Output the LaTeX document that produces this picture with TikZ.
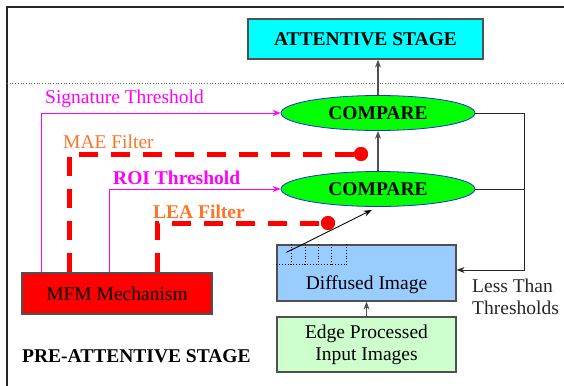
\documentclass[tikz,border=0pt]{standalone}
\usepackage{fontspec}
\setmainfont{Liberation Serif}
\usepackage{xcolor}
\usepackage{tikz}
\usetikzlibrary{
    arrows.meta,
    positioning,
    shapes.geometric,
    calc
}

\definecolor{attcyan}{RGB}{0,255,255}
\definecolor{cmpgreen}{RGB}{0,255,0}
\definecolor{cmpblue}{RGB}{40,40,230}
\definecolor{mfmred}{RGB}{255,0,0}
\definecolor{difblue}{RGB}{153,204,255}
\definecolor{edgegreen}{RGB}{204,255,204}
\definecolor{thrmagenta}{RGB}{255,0,255}
\definecolor{filtorange}{RGB}{255,115,40}
\definecolor{linegray}{RGB}{80,80,80}

\begin{document}
\begin{tikzpicture}[
        x=1pt, y=-1pt,
        font=\rmfamily\fontsize{19.5}{22}\selectfont,
        box/.style={
            rectangle,
            draw=linegray,
            line width=1.2pt,
            align=center,
            inner sep=0pt
        },
        cmp/.style={
            ellipse,
            draw=cmpblue,
            fill=cmpgreen,
            line width=0.8pt,
            minimum width=194pt,
            minimum height=35pt,
            inner sep=0pt,
            font=\rmfamily\fontsize{19.5}{22}\selectfont\bfseries
        },
        line/.style={
            -{Stealth[length=8pt,width=6pt]},
            draw=linegray,
            line width=1.1pt
        },
        thr/.style={
            -{Stealth[length=8pt,width=6pt]},
            draw=thrmagenta,
            line width=0.8pt
        },
        filt/.style={
            draw=mfmred,
            line width=5pt,
            dash pattern=on 19pt off 13pt
        },
        dot/.style={
            circle,
            fill=mfmred,
            minimum size=14pt,
            inner sep=0pt
        },
        lbl/.style={
            anchor=west,
            inner sep=0pt
        }
    ]

    \useasboundingbox (0,0) rectangle (564,385);

    % frame and stage separator
    \draw[line width=1.4pt, draw=black!85] (7,7) rectangle (580,400);
    \draw[dotted, draw=black!60, line width=0.7pt] (7,83) -- (564,83);

    \node[box, fill=attcyan, minimum width=235pt, minimum height=40pt,
          font=\rmfamily\fontsize{19.5}{22}\selectfont\bfseries] (att)
        at (365.5,39) {ATTENTIVE STAGE};

    \node[cmp] (cmp1) at (378,113) {COMPARE};
    \node[cmp] (cmp2) at (378,189) {COMPARE};

    \node[box, fill=mfmred, minimum width=190pt, minimum height=41pt] (mfm)
        at (117,293.5) {MFM Mechanism};

    \node[box, fill=difblue, minimum width=179pt, minimum height=56pt] (diff)
        at (366.5,273) {};
    \node[inner sep=0pt] (difftext) at (366.5,285) {Diffused Image};

    \node[box, fill=edgegreen, minimum width=179pt, minimum height=55pt] (edge)
        at (366.5,344.5) {Edge Processed\\Input Images};

    % grid of the diffused image
    \foreach \gx in {15,29,42,55,70}
        \draw[dotted, line width=0.8pt]
            ([xshift=\gx pt]diff.north west) -- ++(0,20);
    \draw[dotted, line width=0.8pt]
        ([yshift=-20pt]diff.north west) -- ++(70,0);
    \coordinate (gridpt) at ([xshift=10pt, yshift=-8pt]diff.north west);

    % labels
    \node[lbl, text=thrmagenta] (siglbl) at (45,99) {Signature Threshold};
    \node[lbl, text=filtorange] (maelbl) at (63,142) {MAE Filter};
    \node[lbl, text=thrmagenta, font=\rmfamily\fontsize{19.5}{22}\selectfont\bfseries]
        (roilbl) at (113,178) {ROI Threshold};
    \node[lbl, text=filtorange, font=\rmfamily\fontsize{19.5}{22}\selectfont\bfseries]
        (lealbl) at (153,212) {LEA Filter};
    \node[lbl, anchor=north west, align=left, text=black!85]
        (lesslbl) at (472,279) {Less Than\\Thresholds};
    \node[lbl, font=\rmfamily\fontsize{19.5}{22}\selectfont\bfseries]
        (prelbl) at (22,356) {PRE-ATTENTIVE STAGE};

    % filters
    \node[dot] (maedot) at (361,154) {};
    \node[dot] (leadot) at (328,223) {};
    \draw[filt] ([xshift=48pt]mfm.north west) |- (maedot);
    \draw[filt] ([xshift=136pt]mfm.north west) |- (leadot);
    \node[dot] at (maedot) {};
    \node[dot] at (leadot) {};

    % thresholds
    \draw[thr] ([xshift=20pt]mfm.north west) |- (cmp1.west);
    \draw[thr] ([xshift=88pt]mfm.north west) |- (cmp2.west);

    % flow
    \draw[line] (edge.north) -- (diff.south);
    \draw[line, draw=black, line width=0.9pt, shorten >=7pt]
        (gridpt) -- (cmp2.south);
    \draw[line] (cmp2.north) -- (cmp1.south);
    \draw[line] (cmp1.north) -- (cmp1.north |- att.south);

    % feedback
    \coordinate (fbtop) at (524,113);
    \coordinate (fbbot) at (524,270);
    \draw[line, draw=black!85, line width=0.9pt]
        (cmp1.east) -- (fbtop) -- (fbbot) -- (fbbot -| diff.east);
    \draw[draw=black!85, line width=0.9pt] (cmp2.east) -- (cmp2.east -| fbtop);

\end{tikzpicture}
\end{document}
